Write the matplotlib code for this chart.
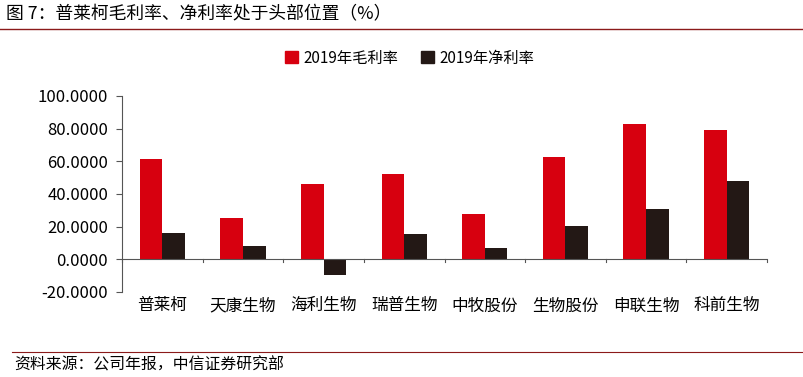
import matplotlib
matplotlib.use("Agg")
import matplotlib.pyplot as plt
import numpy as np
from matplotlib.lines import Line2D

plt.rcParams['font.family'] = ['Noto Sans CJK SC', 'DejaVu Sans']

categories = ["普莱柯", "天康生物", "海利生物", "瑞普生物", "中牧股份", "生物股份", "申联生物", "科前生物"]
gross_margin = [61.2, 25.3, 46.3, 52.2, 27.6, 62.4, 82.7, 79.2]
net_margin = [16.3, 8.0, -9.4, 15.3, 7.1, 20.4, 31.0, 47.8]
series_names = ["2019年毛利率", "2019年净利率"]
yticks = [-20, 0, 20, 40, 60, 80, 100]
title = "图 7：普莱柯毛利率、净利率处于头部位置（%）"
source = "资料来源：公司年报，中信证券研究部"

RED = "#D7000F"
BLACK = "#231815"
LINE = "#8B1A1A"

fig = plt.figure(figsize=(8.04, 3.77), dpi=100)
ax = fig.add_axes([122/804, 1 - 292/377, 645/804, 196/377])

x = np.arange(len(categories))
w = 0.28
ax.bar(x - w/2, gross_margin, width=w, color=RED, label=series_names[0])
ax.bar(x + w/2, net_margin, width=w, color=BLACK, label=series_names[1])

ax.set_xlim(-0.5, len(categories) - 0.5)
ax.set_ylim(-20, 100)
ax.set_yticks(yticks)
ax.set_yticklabels([f"{v:.4f}" for v in yticks], fontsize=12)
ax.tick_params(axis='y', direction='out', length=4, width=0.8, color="#555555", pad=6)

for s in ['top', 'right', 'bottom']:
    ax.spines[s].set_visible(False)
ax.spines['left'].set_color("#555555")
ax.spines['left'].set_linewidth(0.8)
ax.axhline(0, color="#555555", linewidth=0.8, zorder=3)
ax.set_xticks([])
# category boundary ticks on the zero line
for b in np.arange(-0.5, len(categories), 1.0):
    ax.plot([b, b], [0, -1.8], color="#555555", linewidth=0.8, clip_on=False, zorder=3)
for i, c in enumerate(categories):
    ax.text(i, -28.5, c, ha='center', va='center', fontsize=12, transform=ax.transData)

handles = [plt.Rectangle((0, 0), 1, 1, color=RED), plt.Rectangle((0, 0), 1, 1, color=BLACK)]
fig.legend(handles, series_names, loc='center', bbox_to_anchor=(410/804, 1 - 58/377),
           ncol=2, frameon=False, fontsize=11, handlelength=0.8, handleheight=0.8,
           columnspacing=1.5, handletextpad=0.4)

fig.text(6/804, 1 - 14/377, title, fontsize=12.8, ha='left', va='center')
fig.add_artist(Line2D([0, 1], [1 - 29/377, 1 - 29/377], color=LINE, linewidth=1.0, transform=fig.transFigure))
fig.add_artist(Line2D([12/804, 1], [1 - 352/377, 1 - 352/377], color=LINE, linewidth=0.8, transform=fig.transFigure))
fig.text(14/804, 1 - 365/377, source, fontsize=11.4, ha='left', va='center')

fig.savefig("out.png", dpi=100)
